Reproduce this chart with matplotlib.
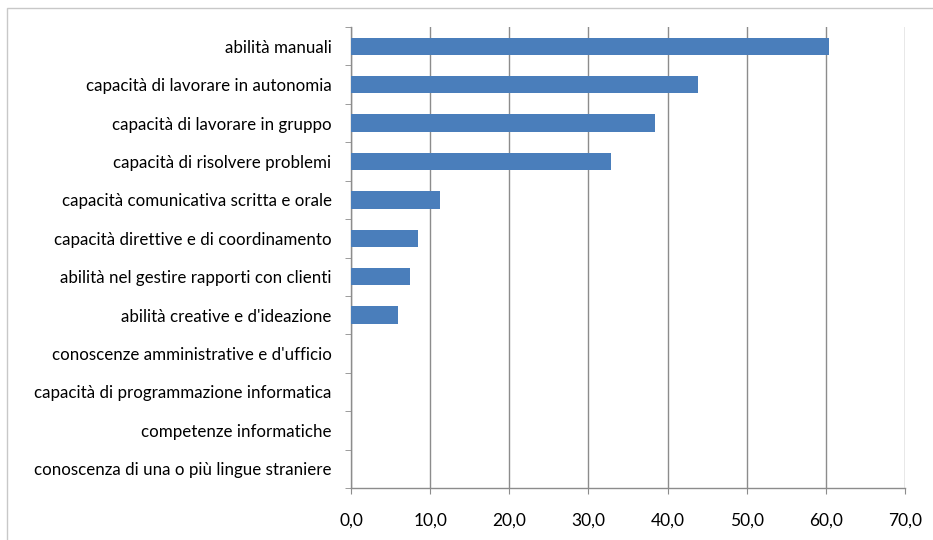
import matplotlib
matplotlib.use("Agg")
import matplotlib.pyplot as plt
from matplotlib.patches import Rectangle
from matplotlib.ticker import FuncFormatter, MultipleLocator

categories = [
    "abilità manuali",
    "capacità di lavorare in autonomia",
    "capacità di lavorare in gruppo",
    "capacità di risolvere problemi",
    "capacità comunicativa scritta e orale",
    "capacità direttive e di coordinamento",
    "abilità nel gestire rapporti con clienti",
    "abilità creative e d'ideazione",
    "conoscenze amministrative e d'ufficio",
    "capacità di programmazione informatica",
    "competenze informatiche",
    "conoscenza di una o più lingue straniere",
]
values = [60.4, 43.9, 38.4, 32.9, 11.2, 8.5, 7.4, 6.0, 0.0, 0.0, 0.0, 0.0]

bar_color = "#4a7ebb"
grid_color = "#8c8c8c"
text_color = "#000000"

plt.rcParams["font.family"] = ["Lato", "DejaVu Sans"]

fig = plt.figure(figsize=(9.33, 5.40), dpi=100)
fig.patch.set_facecolor("white")

# outer chart frame
fig.add_artist(Rectangle((7 / 933, -0.02), 1.0, 1 - 8 / 540 + 0.02,
                         transform=fig.transFigure, fill=False,
                         edgecolor="#c8c8c8", linewidth=1.0))

ax = fig.add_axes([351 / 933, 1 - 488 / 540, (905 - 351) / 933, (488 - 27) / 540])

n = len(categories)
ypos = list(range(n))
ax.barh(ypos, values, height=0.45, color=bar_color, zorder=3)

ax.set_ylim(n - 0.5, -0.5)
ax.set_xlim(0, 70)
ax.xaxis.set_major_locator(MultipleLocator(10))
ax.xaxis.set_major_formatter(FuncFormatter(lambda v, p: f"{v:.1f}".replace(".", ",")))
ax.grid(axis="x", color=grid_color, linewidth=1.0, zorder=0)
ax.set_axisbelow(True)

ax.set_yticks(ypos)
ax.set_yticklabels(categories)
ax.set_yticks([i - 0.5 for i in range(n + 1)], minor=True)

ax.tick_params(axis="y", which="major", length=0, pad=14, labelsize=12.2, labelcolor=text_color)
ax.tick_params(axis="y", which="minor", length=4, color=grid_color, direction="out")
ax.tick_params(axis="x", which="major", length=4, color=grid_color, direction="out",
               pad=14, labelsize=12.5, labelcolor=text_color)

for side in ["top", "right"]:
    ax.spines[side].set_visible(False)
for side in ["left", "bottom"]:
    ax.spines[side].set_color(grid_color)
    ax.spines[side].set_linewidth(1.0)

fig.savefig("out.png", dpi=100)
